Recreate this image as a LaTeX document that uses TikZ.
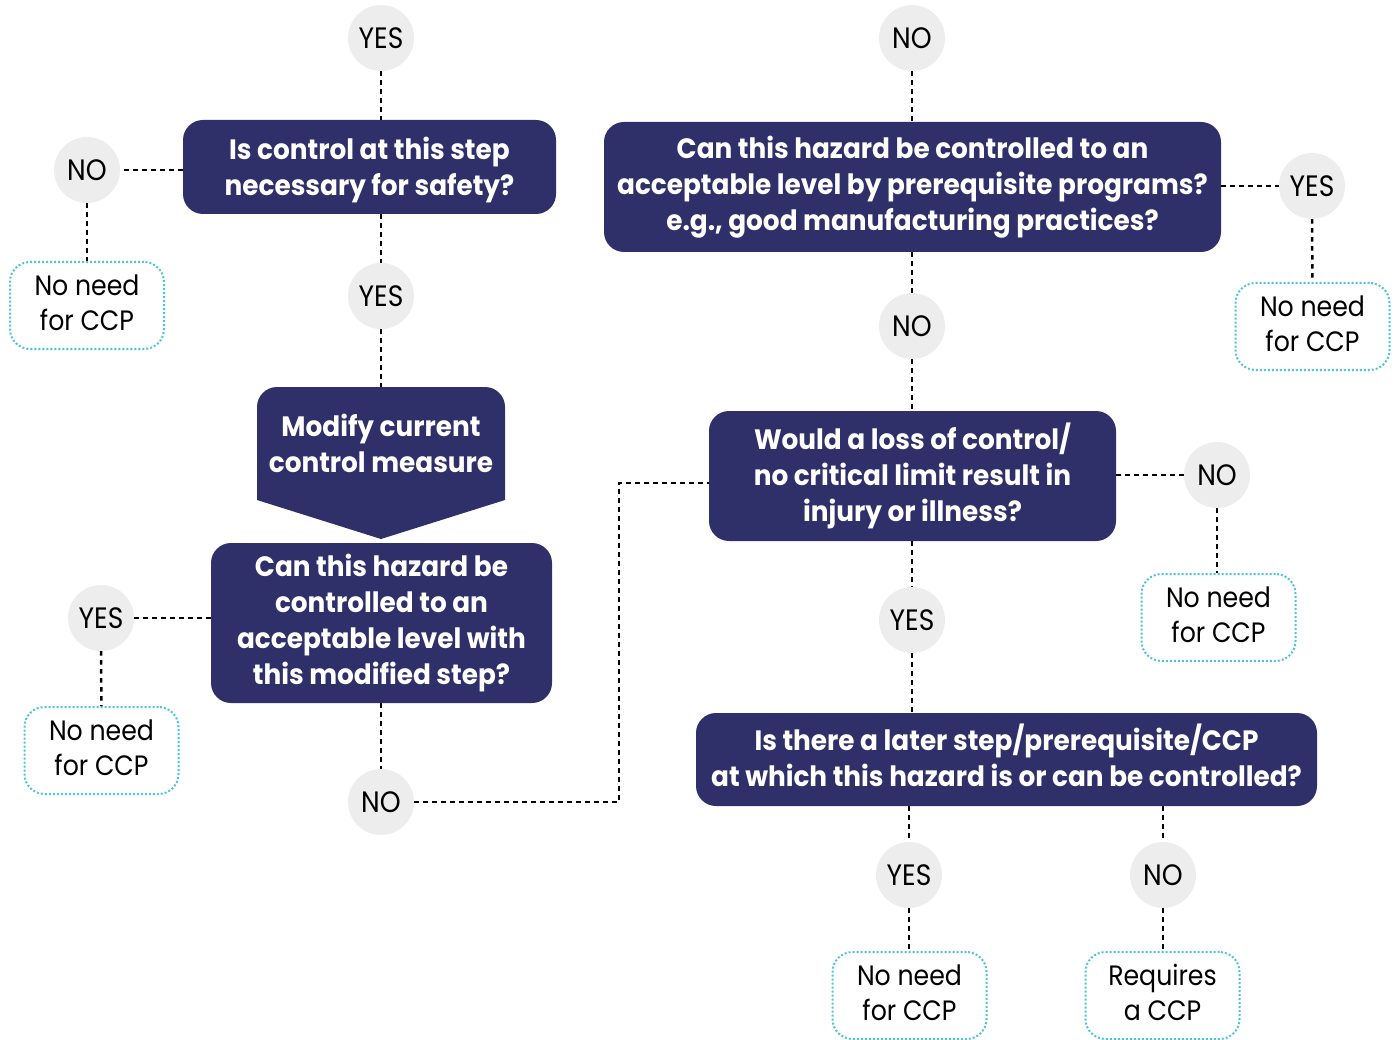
\documentclass[tikz,border=0pt]{standalone}
\usepackage{fontspec}
\setmainfont{Poppins}[FakeStretch=0.9, BoldFeatures={FakeStretch=0.94}]
\definecolor{navy}{HTML}{2F2F69}
\definecolor{circ}{HTML}{EDEDED}
\definecolor{cyanl}{HTML}{4CC4DB}
\tikzset{
  q/.style={fill=navy, text=white, rounded corners=20, font=\bfseries\fontsize{28}{36}\selectfont, align=center, inner sep=0},
  ans/.style={circle, fill=circ, minimum size=66, inner sep=0, font=\fontsize{29.5}{29.5}\selectfont},
  res/.style={draw=cyanl, line width=2, dash pattern=on 2 off 2, rounded corners=20, minimum width=154, minimum height=87, align=center, inner sep=0, font=\fontsize{28}{35}\selectfont},
  link/.style={draw=black, line width=2.5, dash pattern=on 4.5 off 4.5},
}
\begin{document}
\begin{tikzpicture}[x=1pt,y=-1pt]
\useasboundingbox (0,0) rectangle (1394,1040);
% left column
\node[ans] (yes1) at (381,38) {YES};
\node[q, minimum width=373, minimum height=94] (q1) at (369.5,167) {\rule{0pt}{29pt}Is control at this step\\necessary for safety?};
\node[ans] (no1) at (87,170) {NO};
\node[res] (r1) at (87,305.5) {No need\\for CCP\rule[-6pt]{0pt}{6pt}};
\node[ans] (yes2) at (381,296) {YES};
\fill[navy] (257,500) [rounded corners=20] -- (257,387) -- (505,387) [sharp corners] -- (505,500) -- (381,539) -- cycle;
\node[minimum width=248, minimum height=113, inner sep=0, text=white, align=center, font=\bfseries\fontsize{28}{36}\selectfont] (mod) at (381,443.5) {Modify current\\control measure};
\node[q, minimum width=341, minimum height=160] (q2) at (381.5,623) {Can this hazard be\\controlled to an\\acceptable level with\\this modified step?};
\node[ans] (yes3) at (101,618) {YES};
\node[res] (r2) at (101.5,750.5) {No need\\for CCP\rule[-6pt]{0pt}{6pt}};
\node[ans] (no2) at (381,802) {NO};
% right column
\node[ans] (no3) at (912,38) {NO};
\node[q, minimum width=617, minimum height=130] (q3) at (912.5,187) {Can this hazard be controlled to an\\acceptable level by prerequisite programs?\\e.g., good manufacturing practices?};
\node[ans] (yes4) at (1312,186) {YES};
\node[res] (r3) at (1312.5,326.5) {No need\\for CCP\rule[-6pt]{0pt}{6pt}};
\node[ans] (no4) at (912,326) {NO};
\node[q, minimum width=407, minimum height=130] (q4) at (912.5,476) {Would a loss of control/\\no critical limit result in\\injury or illness?};
\node[ans] (no5) at (1217,475) {NO};
\node[res] (r4) at (1218.5,617.5) {No need\\for CCP\rule[-6pt]{0pt}{6pt}};
\node[ans] (yes5) at (912,620) {YES};
\node[q, minimum width=621, minimum height=93] (q5) at (1006.5,759.5) {Is there a later step/prerequisite/CCP\\at which this hazard is or can be controlled?\rule[-8pt]{0pt}{8pt}};
\node[ans] (yes6) at (909,875) {YES};
\node[ans] (no6) at (1163,875) {NO};
\node[res] (r5) at (909.5,995.5) {No need\\for CCP\rule[-6pt]{0pt}{6pt}};
\node[res] (r6) at (1162.5,995.5) {Requires\\a CCP\rule[-6pt]{0pt}{6pt}};
\coordinate (c1) at (619,802);
\coordinate (c2) at (619,483);
\coordinate (c3) at (709,483);
% connectors
\draw[link] (yes1) -- (q1.north -| yes1);
\draw[link] (q1.west |- no1) -- (no1);
\draw[link] (no1) -- (r1);
\draw[link] (q1.south -| yes2) -- (yes2);
\draw[link] (yes2) -- (mod.north);
\draw[link] (q2.west |- yes3) -- (yes3);
\draw[link] (yes3) -- (r2);
\draw[link] (q2.south -| no2) -- (no2);
\draw[link] (no2) -- (c1) -- (c2) -- (c3);
\draw[link] (no3) -- (q3.north -| no3);
\draw[link] (q3.east |- yes4) -- (yes4);
\draw[link] (yes4) -- (r3);
\draw[link] (q3.south -| no4) -- (no4);
\draw[link] (no4) -- (q4.north -| no4);
\draw[link] (q4.east |- no5) -- (no5);
\draw[link] (no5) -- (r4.north -| no5);
\draw[link] (q4.south -| yes5) -- (yes5);
\draw[link] (yes5) -- (q5.north -| yes5);
\draw[link] (q5.south -| yes6) -- (yes6);
\draw[link] (yes6) -- (r5.north -| yes6);
\draw[link] (q5.south -| no6) -- (no6);
\draw[link] (no6) -- (r6.north -| no6);
\end{tikzpicture}
\end{document}
